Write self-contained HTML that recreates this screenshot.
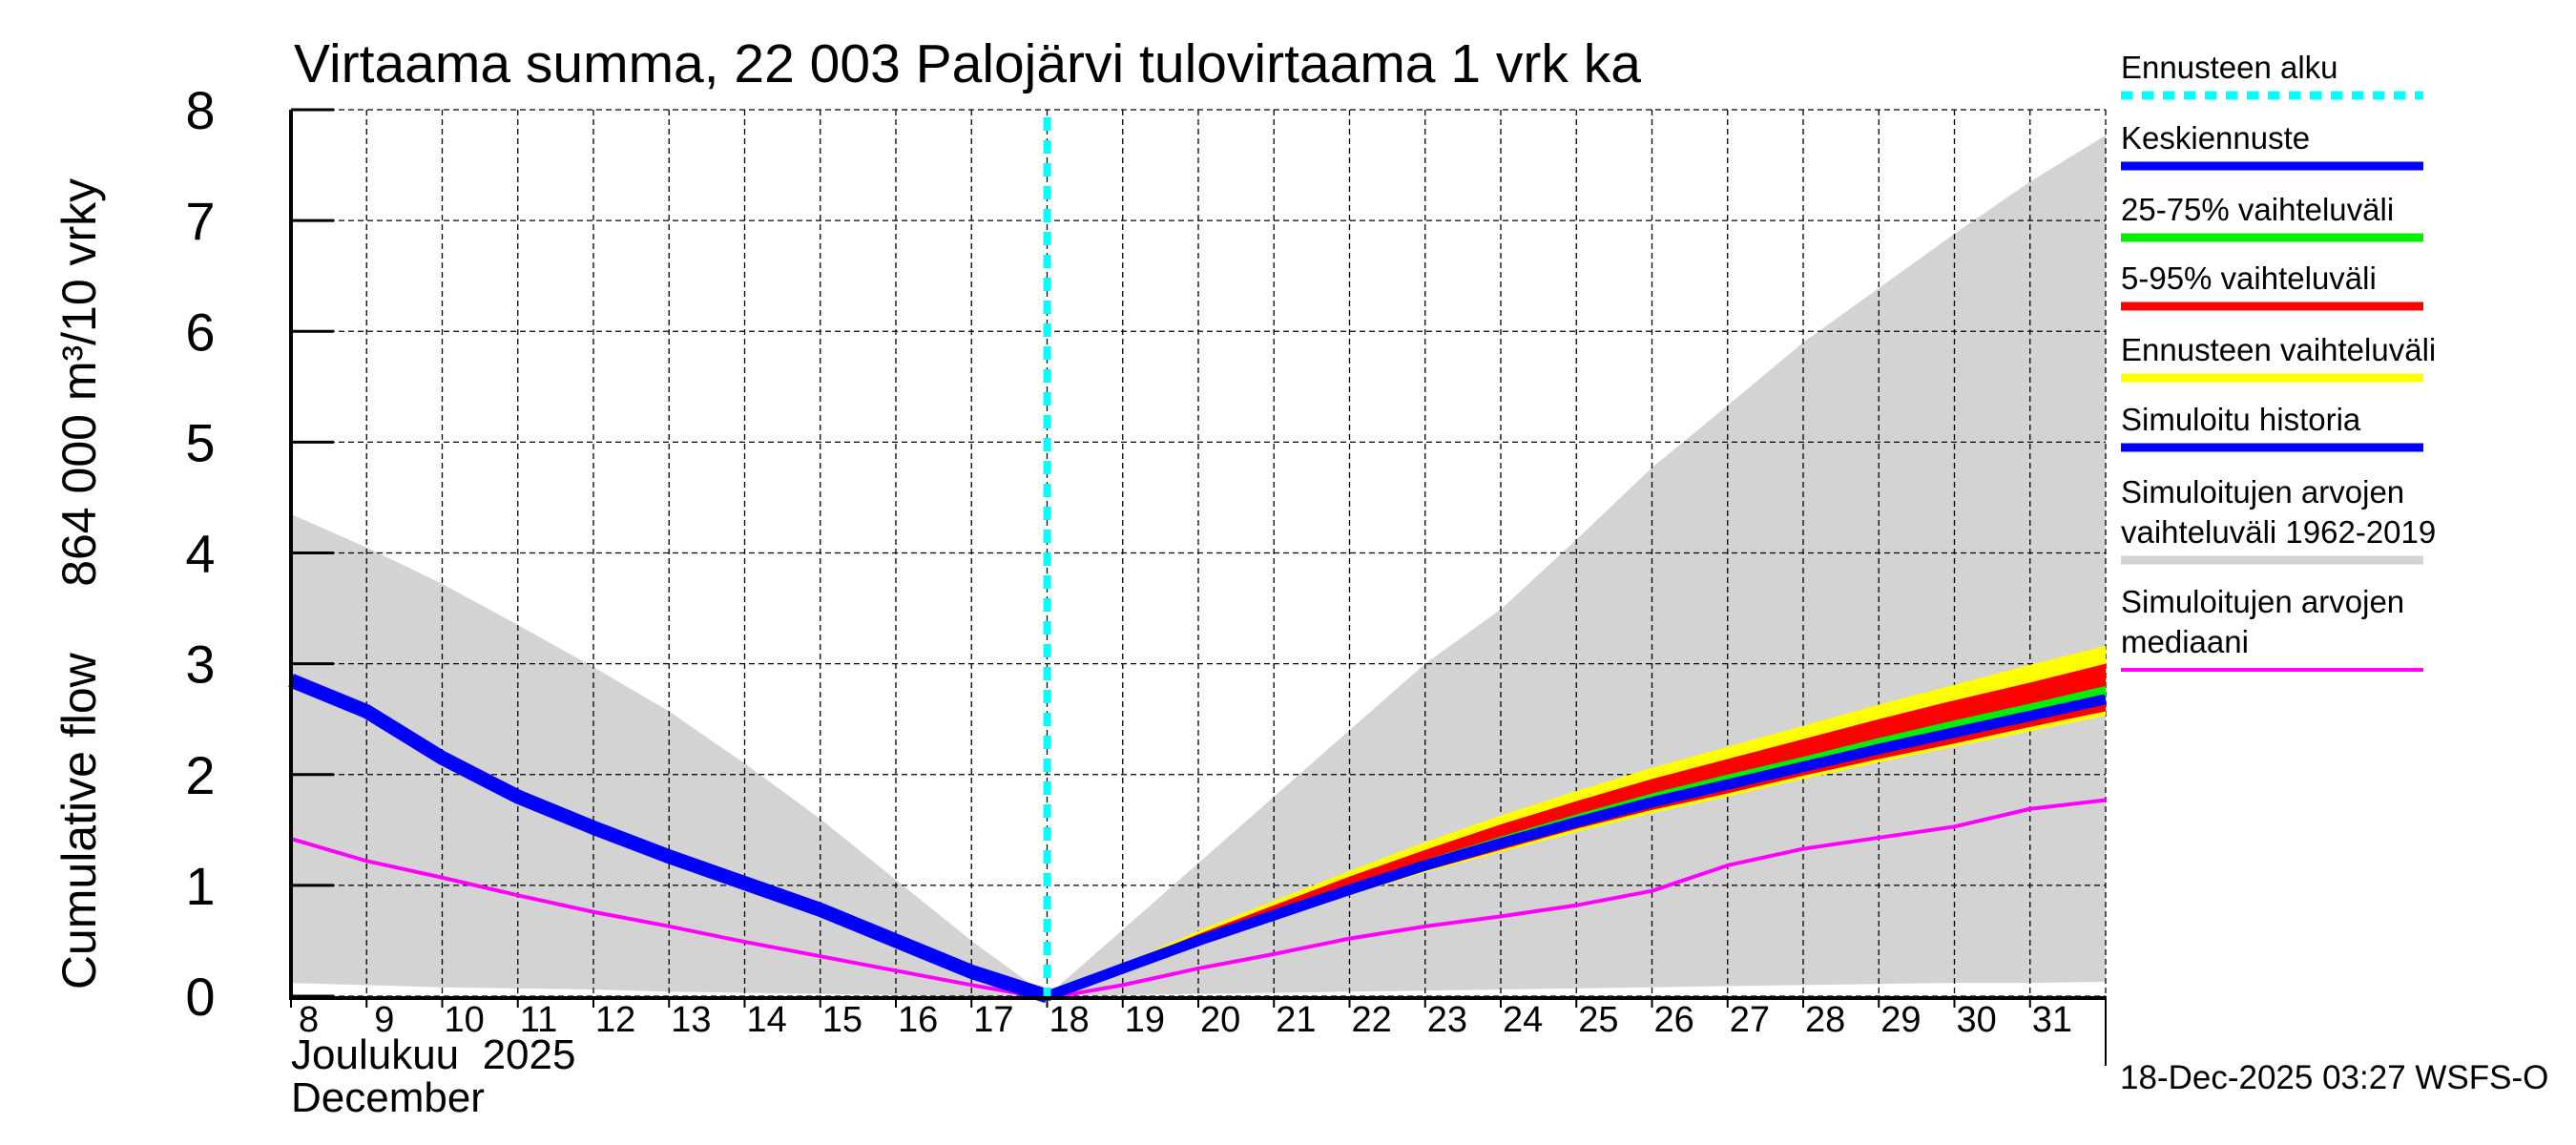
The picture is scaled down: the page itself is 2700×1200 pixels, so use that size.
<!DOCTYPE html>
<html><head><meta charset="utf-8"><style>
html,body{margin:0;padding:0;background:#fff;}
svg{display:block;font-family:"Liberation Sans",sans-serif;}
</style></head><body>
<svg id="c" width="2700" height="1200" viewBox="0 0 2700 1200">
<text x="308" y="86" font-size="57">Virtaama summa, 22 003 Palojärvi tulovirtaama 1 vrk ka</text>
<text transform="translate(100,612) rotate(-90)" text-anchor="middle" font-size="50" xml:space="preserve">Cumulative flow     864 000 m³/10 vrky</text>
<text x="305" y="1120" font-size="44" xml:space="preserve">Joulukuu  2025</text>
<text x="305" y="1165" font-size="44">December</text>
<text x="2222" y="1141" font-size="35">18-Dec-2025 03:27 WSFS-O</text>
<g id="plot"></g>
<g id="legend"></g>
</svg>
<script>
const yTicks=[0,1,2,3,4,5,6,7,8];
const days=[8,9,10,11,12,13,14,15,16,17,18,19,20,21,22,23,24,25,26,27,28,29,30,31];
const bandDays=[8,9,10,11,12,13,14,15,16,17,18,19,20,21,22,23,24,25,26,27,28,29,30,31,32];
const bandHi=[4.35,4.05,3.72,3.35,2.97,2.57,2.1,1.6,1.05,0.5,0,0.6,1.2,1.8,2.4,3.0,3.49,4.12,4.77,5.33,5.9,6.39,6.88,7.35,7.77];
const bandLo=[0.12,0.1,0.08,0.07,0.06,0.04,0.03,0.02,0.01,0,0,0.01,0.02,0.03,0.04,0.05,0.06,0.07,0.08,0.09,0.1,0.11,0.12,0.12,0.13];
const histDays=[8,9,10,11,12,13,14,15,16,17,18];
const histVals=[2.85,2.57,2.15,1.8,1.52,1.26,1.02,0.78,0.5,0.22,0];
const medianVals=[1.42,1.22,1.07,0.91,0.76,0.63,0.49,0.36,0.23,0.1,-0.02,0.1,0.25,0.38,0.52,0.63,0.72,0.82,0.95,1.18,1.33,1.43,1.53,1.69,1.77];
const fcDays=[18,19,20,21,22,23,24,25,26,27,28,29,30,31,32];
const fcMed=[0,0.25,0.5,0.73,0.96,1.18,1.38,1.57,1.75,1.91,2.07,2.23,2.38,2.53,2.68];
const yellowHi=[0,0.29,0.59,0.86,1.13,1.39,1.63,1.85,2.06,2.25,2.44,2.63,2.81,2.99,3.16];
const yellowLo=[0,0.24,0.47,0.69,0.91,1.12,1.3,1.48,1.65,1.8,1.96,2.11,2.25,2.39,2.53];
const redHi=[0,0.28,0.56,0.82,1.08,1.32,1.55,1.76,1.96,2.14,2.32,2.5,2.67,2.83,3.0];
const redLo=[0,0.24,0.48,0.7,0.92,1.13,1.32,1.51,1.68,1.83,1.99,2.14,2.28,2.43,2.57];
const greenHi=[0,0.26,0.52,0.76,1.0,1.23,1.44,1.64,1.83,2.0,2.16,2.33,2.49,2.64,2.8];
const greenLo=[0,0.25,0.49,0.72,0.95,1.17,1.37,1.55,1.73,1.89,2.05,2.21,2.36,2.5,2.65];
const forecastStart=18;

const X0=305,X1=2207,Y0=1044,Y1=115;
const x=d=>X0+(d-8)*(X1-X0)/24;
const y=v=>Y0-v*(Y0-Y1)/8;
const NS="http://www.w3.org/2000/svg";
const plot=document.getElementById('plot');
function mk(tag,attrs,parent){const e=document.createElementNS(NS,tag);for(const k in attrs)e.setAttribute(k,attrs[k]);(parent||plot).appendChild(e);return e;}
function band(xs,hi,lo,fill,name){
  let p=xs.map((d,i)=>x(d)+','+y(hi[i]));
  for(let i=xs.length-1;i>=0;i--)p.push(x(xs[i])+','+y(lo[i]));
  const e=mk('polygon',{points:p.join(' '),fill:fill});
  
  
}
function line(xs,vs,stroke,w,name){
  const e=mk('polyline',{points:xs.map((d,i)=>x(d)+','+y(vs[i])).join(' '),fill:'none',stroke:stroke,'stroke-width':w,'stroke-linejoin':'round'});
  
  
}
band(bandDays,bandHi,bandLo,'#d3d3d3','historical-range-band');
yTicks.forEach(t=>{const e=mk('line',{x1:X0,x2:X1,y1:y(t),y2:y(t),stroke:'#000','stroke-width':1.3,'stroke-dasharray':'6,4'});

});
bandDays.forEach(d=>{const e=mk('line',{x1:x(d),x2:x(d),y1:Y1,y2:Y0,stroke:'#000','stroke-width':1.3,'stroke-dasharray':'6,4'});

});
band(fcDays,yellowHi,yellowLo,'#ffff00','forecast-range-band');
band(fcDays,redHi,redLo,'#ff0000','p5-95-band');
band(fcDays,greenHi,greenLo,'#00ee00','p25-75-band');
line(bandDays,medianVals,'#ff00ff',4,'historical-median-line');
line(histDays,histVals,'#0000ff',15,'simulated-history-line');
line(fcDays,fcMed,'#0000ff',11,'forecast-median-line');
{const e=mk('line',{x1:x(forecastStart),x2:x(forecastStart),y1:Y1+8,y2:Y0,stroke:'#00ffff','stroke-width':8,'stroke-dasharray':'14,10'});

}
{const e=mk('line',{x1:X0,x2:X0,y1:Y1,y2:Y0+4,stroke:'#000','stroke-width':4});

}
{const e=mk('line',{x1:X0,x2:X1,y1:Y0+2,y2:Y0+2,stroke:'#000','stroke-width':4});

}
{const e=mk('line',{x1:X1,x2:X1,y1:Y0,y2:1117,stroke:'#000','stroke-width':2});

}
yTicks.forEach(t=>{
  const tk=mk('line',{x1:X0,x2:X0+45,y1:y(t),y2:y(t),stroke:'#000','stroke-width':3});
  
  
  const tx=mk('text',{x:210,y:y(t)+20,'font-size':56,'text-anchor':'middle'});
  tx.textContent=t;
  
  
});
days.forEach(d=>{
  const tk=mk('line',{x1:x(d),x2:x(d),y1:Y0,y2:Y0+12,stroke:'#000','stroke-width':2});
  
  
  const tx=mk('text',{x:x(d)+(d<10?8:2),y:1081,'font-size':38});
  tx.textContent=d;
  
  
});
const lg=document.getElementById('legend');
const legTexts=[["Ennusteen alku"],["Keskiennuste"],["25-75% vaihteluväli"],["5-95% vaihteluväli"],["Ennusteen vaihteluväli"],["Simuloitu historia"],["Simuloitujen arvojen","vaihteluväli 1962-2019"],["Simuloitujen arvojen","mediaani"]];
const legColors=['#00ffff','#0000ff','#00ee00','#ff0000','#ffff00','#0000ff','#d3d3d3','#ff00ff'];
const legLineY=[100,174,249,321,396,469,587,702];
legTexts.forEach((lines,i)=>{
  const ly=legLineY[i];
  const n=lines.length;
  lines.forEach((s,j)=>{
    const t=mk('text',{x:2223,y:ly-18-(n-1-j)*42,'font-size':33},lg);
    t.textContent=s;
    
    
  });
  const a={x1:2223,x2:2540,y1:ly,y2:ly,stroke:legColors[i],'stroke-width':i==7?4:9};
  if(i==0)a['stroke-dasharray']='12,10';
  const l=mk('line',a,lg);
  
  
});
</script>
</body></html>
